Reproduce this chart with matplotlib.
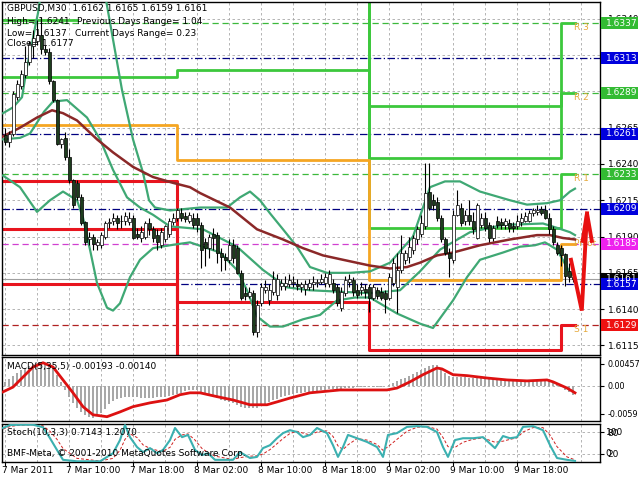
import numpy as np
import matplotlib.pyplot as plt
import matplotlib.transforms as mtransforms
from matplotlib.patches import Rectangle

plt.rcParams['font.family'] = ['DejaVu Sans']
FS = 6.5

# ── GBPUSD M30 candles, bar 0 = 7 Mar 2011 02:00 ─────────────────────────────
opens = [1.6260, 1.6255, 1.6261, 1.6286, 1.6294, 1.6301, 1.6310, 1.6321, 1.6325, 1.6329,
         1.6319, 1.6317, 1.6297, 1.6284, 1.6254, 1.6258, 1.6245, 1.6229, 1.6227, 1.6217,
         1.6200, 1.6188, 1.6190, 1.6184, 1.6184, 1.6190, 1.6199, 1.6201, 1.6203, 1.6201,
         1.6201, 1.6200, 1.6203, 1.6192, 1.6189, 1.6190, 1.6199, 1.6195, 1.6191, 1.6184,
         1.6188, 1.6192, 1.6200, 1.6203, 1.6206, 1.6204, 1.6201, 1.6203, 1.6203, 1.6198,
         1.6186, 1.6182, 1.6192, 1.6191, 1.6179, 1.6176, 1.6174, 1.6184, 1.6182, 1.6165,
         1.6151, 1.6149, 1.6151, 1.6124, 1.6144, 1.6153, 1.6146, 1.6152, 1.6150, 1.6156,
         1.6156, 1.6157, 1.6158, 1.6157, 1.6155, 1.6154, 1.6155, 1.6157, 1.6158, 1.6159,
         1.6158, 1.6157, 1.6158, 1.6155, 1.6141, 1.6151, 1.6159, 1.6160, 1.6153, 1.6153,
         1.6154, 1.6155, 1.6148, 1.6153, 1.6152, 1.6151, 1.6148, 1.6158, 1.6155, 1.6167,
         1.6174, 1.6176, 1.6181, 1.6188, 1.6192, 1.6197, 1.6221, 1.6215, 1.6214, 1.6203,
         1.6188, 1.6179, 1.6174, 1.6205, 1.6210, 1.6201, 1.6205, 1.6201, 1.6189, 1.6198,
         1.6203, 1.6198, 1.6189, 1.6201, 1.6200, 1.6198, 1.6199, 1.6197, 1.6197, 1.6200,
         1.6201, 1.6201, 1.6206, 1.6207, 1.6209, 1.6208, 1.6203, 1.6195, 1.6184, 1.6182,
         1.6178, 1.6166, 1.6162]
closes = [1.6255, 1.6261, 1.6288, 1.6295, 1.6302, 1.6310, 1.6323, 1.6327, 1.6329, 1.6319,
          1.6317, 1.6297, 1.6284, 1.6254, 1.6257, 1.6245, 1.6229, 1.6212, 1.6217, 1.6199,
          1.6186, 1.6190, 1.6185, 1.6186, 1.6191, 1.6199, 1.6200, 1.6203, 1.6199, 1.6201,
          1.6204, 1.6203, 1.6189, 1.6190, 1.6193, 1.6199, 1.6195, 1.6189, 1.6186, 1.6193,
          1.6197, 1.6201, 1.6203, 1.6208, 1.6203, 1.6202, 1.6205, 1.6198, 1.6198, 1.6181,
          1.6182, 1.6190, 1.6189, 1.6179, 1.6176, 1.6174, 1.6184, 1.6175, 1.6165, 1.6148,
          1.6149, 1.6152, 1.6124, 1.6143, 1.6155, 1.6155, 1.6153, 1.6161, 1.6161, 1.6158,
          1.6158, 1.6160, 1.6159, 1.6156, 1.6157, 1.6157, 1.6158, 1.6159, 1.6159, 1.6161,
          1.6162, 1.6164, 1.6153, 1.6144, 1.6152, 1.6160, 1.6161, 1.6152, 1.6150, 1.6155,
          1.6152, 1.6148, 1.6155, 1.6149, 1.6148, 1.6147, 1.6162, 1.6172, 1.6167, 1.6179,
          1.6179, 1.6183, 1.6189, 1.6195, 1.6199, 1.6220, 1.6210, 1.6212, 1.6203, 1.6188,
          1.6179, 1.6175, 1.6205, 1.6212, 1.6199, 1.6205, 1.6201, 1.6195, 1.6212, 1.6203,
          1.6196, 1.6189, 1.6196, 1.6198, 1.6198, 1.6201, 1.6196, 1.6196, 1.6201, 1.6203,
          1.6204, 1.6206, 1.6208, 1.6208, 1.6206, 1.6203, 1.6195, 1.6186, 1.6179, 1.6177,
          1.6163, 1.6162, 1.6161]
highs = [1.6265, 1.6263, 1.6290, 1.6298, 1.6305, 1.6321, 1.6325, 1.6332, 1.6339, 1.6341,
         1.6322, 1.6320, 1.6298, 1.6285, 1.6258, 1.6262, 1.6250, 1.6230, 1.6229, 1.6219,
         1.6201, 1.6193, 1.6192, 1.6188, 1.6193, 1.6201, 1.6203, 1.6206, 1.6205, 1.6205,
         1.6207, 1.6207, 1.6205, 1.6196, 1.6197, 1.6201, 1.6203, 1.6197, 1.6195, 1.6196,
         1.6198, 1.6203, 1.6206, 1.6210, 1.6210, 1.6207, 1.6207, 1.6206, 1.6206, 1.6200,
         1.6189, 1.6192, 1.6196, 1.6193, 1.6182, 1.6179, 1.6188, 1.6188, 1.6184, 1.6167,
         1.6155, 1.6155, 1.6153, 1.6146, 1.6158, 1.6160, 1.6157, 1.6166, 1.6164, 1.6161,
         1.6163, 1.6164, 1.6163, 1.6161, 1.6159, 1.6160, 1.6161, 1.6163, 1.6161, 1.6164,
         1.6165, 1.6167, 1.6161, 1.6157, 1.6155, 1.6163, 1.6164, 1.6162, 1.6157, 1.6159,
         1.6157, 1.6157, 1.6157, 1.6155, 1.6155, 1.6153, 1.6165, 1.6175, 1.6179, 1.6191,
         1.6181, 1.6190, 1.6191, 1.6197, 1.6205, 1.6241, 1.6241, 1.6219, 1.6217, 1.6205,
         1.6190, 1.6182, 1.6208, 1.6222, 1.6213, 1.6208, 1.6215, 1.6207, 1.6213, 1.6206,
         1.6207, 1.6200, 1.6198, 1.6204, 1.6203, 1.6203, 1.6202, 1.6200, 1.6205, 1.6206,
         1.6207, 1.6208, 1.6210, 1.6212, 1.6211, 1.6212, 1.6206, 1.6197, 1.6186, 1.6184,
         1.6179, 1.6172, 1.6165]
lows = [1.6253, 1.6252, 1.6259, 1.6284, 1.6292, 1.6299, 1.6308, 1.6313, 1.6322, 1.6316,
        1.6315, 1.6295, 1.6283, 1.6253, 1.6251, 1.6243, 1.6227, 1.6210, 1.6215, 1.6198,
        1.6184, 1.6184, 1.6181, 1.6181, 1.6182, 1.6188, 1.6196, 1.6198, 1.6195, 1.6196,
        1.6198, 1.6198, 1.6188, 1.6188, 1.6186, 1.6188, 1.6191, 1.6186, 1.6181, 1.6182,
        1.6186, 1.6190, 1.6198, 1.6201, 1.6201, 1.6200, 1.6199, 1.6196, 1.6193, 1.6168,
        1.6170, 1.6175, 1.6181, 1.6172, 1.6166, 1.6167, 1.6172, 1.6172, 1.6164, 1.6146,
        1.6146, 1.6148, 1.6122, 1.6121, 1.6142, 1.6151, 1.6143, 1.6150, 1.6146, 1.6153,
        1.6153, 1.6155, 1.6155, 1.6153, 1.6152, 1.6150, 1.6153, 1.6153, 1.6155, 1.6157,
        1.6155, 1.6155, 1.6151, 1.6142, 1.6139, 1.6149, 1.6155, 1.6149, 1.6148, 1.6150,
        1.6148, 1.6138, 1.6146, 1.6147, 1.6146, 1.6137, 1.6146, 1.6156, 1.6137, 1.6165,
        1.6171, 1.6172, 1.6178, 1.6185, 1.6190, 1.6195, 1.6208, 1.6208, 1.6201, 1.6186,
        1.6177, 1.6162, 1.6172, 1.6204, 1.6197, 1.6198, 1.6198, 1.6192, 1.6188, 1.6196,
        1.6194, 1.6186, 1.6187, 1.6196, 1.6195, 1.6195, 1.6193, 1.6193, 1.6195, 1.6197,
        1.6200, 1.6200, 1.6204, 1.6205, 1.6205, 1.6202, 1.6192, 1.6184, 1.6177, 1.6170,
        1.6156, 1.6159, 1.6159]

# ── Bollinger bands and moving average ──────────────────────────────────────
bb_up_x = [-0.5, 2, 4.25, 5.5, 6.75, 7.5, 8.25, 9.5, 24.5, 25.25, 29.25, 32, 34.5, 36, 37.5,
           41.25, 48.75, 55.5, 58.75, 61.25, 63.75, 66.25, 69.5, 73, 76.25, 80.5, 86.25, 91.25,
           96.25, 102, 106.25, 110, 113.75, 118.75, 126.25, 130.5, 135.5, 138.75, 141.25, 142.5]
bb_up = [1.6275, 1.6279, 1.6286, 1.6307, 1.6323, 1.6334, 1.6344, 1.6367, 1.6367, 1.6353,
         1.6291, 1.6257, 1.6234, 1.6215, 1.6210, 1.6208, 1.6210, 1.6210, 1.6217, 1.6221,
         1.6215, 1.6206, 1.6195, 1.6183, 1.6169, 1.6165, 1.6165, 1.6166, 1.6172, 1.6190,
         1.6224, 1.6228, 1.6228, 1.6221, 1.6215, 1.6212, 1.6213, 1.6215, 1.6221, 1.6223]
bb_mid_x = [-0.5, 3.75, 6.25, 9.75, 12, 15.5, 20.5, 23.75, 27, 30.5, 33.75, 37, 41.25, 49.5,
            58, 64.5, 70.5, 76.25, 83.75, 91.25, 98.75, 103.75, 108.75, 116.25, 124.5, 134.5,
            138, 141.25, 142.5]
bb_mid = [1.6257, 1.6258, 1.6261, 1.6276, 1.6283, 1.6284, 1.6272, 1.6257, 1.6236, 1.6217,
          1.6210, 1.6205, 1.6197, 1.6195, 1.6183, 1.6167, 1.6155, 1.6153, 1.6152, 1.6151,
          1.6153, 1.6166, 1.6181, 1.6193, 1.6198, 1.6199, 1.6196, 1.6193, 1.6191]
bb_low_x = [-0.5, 3.75, 8, 11.25, 14.5, 18, 19.5, 21.25, 23, 25.5, 27, 28.75, 31.25, 33.75, 37,
            41.25, 46.25, 53.75, 58, 60.5, 63, 66.25, 69.5, 74.5, 78.75, 83, 87.5, 91.25, 98,
            103.75, 107, 112, 115.5, 118.75, 124.5, 128.75, 132.5, 135, 138, 141.25, 142.5]
bb_low = [1.6232, 1.6224, 1.6207, 1.6215, 1.6221, 1.6215, 1.6203, 1.6181, 1.6158, 1.6141,
          1.6139, 1.6144, 1.6162, 1.6174, 1.6182, 1.6184, 1.6186, 1.6179, 1.6167, 1.6153,
          1.6135, 1.6128, 1.6128, 1.6133, 1.6136, 1.6146, 1.6148, 1.6148, 1.6137, 1.6130,
          1.6127, 1.6146, 1.6162, 1.6174, 1.6179, 1.6183, 1.6184, 1.6186, 1.6181, 1.6165,
          1.6162]
ma_x = [-0.5, 3.75, 8, 11.75, 14.5, 18, 23, 27, 32, 37, 42, 46.25, 48.75, 56.25, 63, 69.5,
        74.5, 79.5, 84.5, 91.25, 96.25, 100.5, 103.75, 108, 112, 118.75, 126.25, 133, 136.25,
        139.5, 142.5]
ma = [1.6259, 1.6265, 1.6272, 1.6277, 1.6275, 1.6270, 1.6257, 1.6248, 1.6238, 1.6231,
      1.6227, 1.6224, 1.6220, 1.6210, 1.6195, 1.6188, 1.6182, 1.6177, 1.6174, 1.6170,
      1.6168, 1.6169, 1.6172, 1.6177, 1.6179, 1.6184, 1.6188, 1.6191, 1.6191, 1.6189, 1.6188]

# ── Daily pivot levels for 7, 8, 9 and 10 Mar ────────────────────────────────
day_edges = [-0.75, 43, 91, 139, 142.5]
r3 = [1.6411, 1.6465, 1.6280, 1.6337]
r2 = [1.6339, 1.6403, 1.6244, 1.6289]
r1 = [1.6300, 1.6305, 1.6196, 1.6233]
pp = [1.6267, 1.6243, 1.6160, 1.6185]
s1 = [1.6228, 1.6145, 1.6112, 1.6129]
s2 = [1.6195, 1.6083, 1.6076, 1.6081]
s3 = [1.6157, 1.6021, 1.6040, 1.6025]
r2_day7_end = 18

today_levels = [1.6337, 1.6313, 1.6289, 1.6261, 1.6233, 1.6209, 1.6185, 1.6157, 1.6129]
today_kinds = ['R', 'M', 'R', 'M', 'R', 'M', 'P', 'M', 'S']
pivot_names = ['R 3', 'R 2', 'R 1', 'Pivot P', 'S 1']
pivot_prices = [1.6337, 1.6289, 1.6233, 1.6185, 1.6129]

box_prices = [1.6337, 1.6313, 1.6289, 1.6261, 1.6233, 1.6209, 1.6185, 1.6161, 1.6157, 1.6129]
box_kinds = ['R', 'M', 'R', 'M', 'R', 'M', 'P', 'B', 'M', 'S']

price_ticks = [1.6115, 1.6140, 1.6165, 1.6190, 1.6215, 1.6240, 1.6265, 1.6290, 1.6315, 1.6340]

# forecast arrow on the right
arrow_x = [141.5, 144.2, 145.5]
arrow_y = [1.6174, 1.6139, 1.6206]
head_x = [144.4, 145.5, 146.7]
head_y = [1.6187, 1.6206, 1.6187]

# ── MACD(5,35,5): histogram per bar and signal line (units of 1e-4) ──────────
macd_hist = [8, 14, 20, 27, 33, 38, 42, 45, 47, 48,
             47, 43, 34, 22, 8, -10, -23, -36, -46, -55,
             -62, -66, -67, -64, -58, -48, -38, -32, -28, -26,
             -24, -23, -23, -24, -25, -26, -26, -25, -24, -23,
             -23, -21, -19, -17, -15, -12, -10, -9, -10, -13,
             -15, -18, -22, -26, -30, -33, -35, -37, -40, -44,
             -46, -47, -47, -46, -43, -38, -34, -30, -27, -24,
             -21, -19, -17, -16, -15, -14, -13, -13, -12, -10,
             -9, -8, -7, -6, -6, -5, -4, -4, -3, -3,
             -3, -3, -3, -3, -2, -1, 2, 6, 10, 13,
             16, 20, 24, 28, 32, 38, 42, 44, 43, 36,
             27, 20, 18, 18, 18, 18, 17, 17, 17, 16,
             16, 15, 15, 14, 13, 12, 12, 12, 12, 12,
             12, 12, 11, 11, 10, 10, 9, 7, 3, -3,
             -9, -14, -19]
sig_x = [-0.5, 2, 4.5, 7, 9.5, 12, 14.5, 17, 19.5, 22, 25.5, 28.75, 32, 36.25, 40.5, 43.75,
         46.25, 48.75, 53, 57, 61.25, 65.5, 68, 71.25, 76.25, 78.75, 83.75, 88.75, 95.5, 98,
         101.25, 104.5, 108, 109.25, 112, 115.5, 120.5, 125.5, 130.5, 135.5, 137, 140.5, 142.5]
sig_v = [-13, -3, 18, 39, 48, 39, 12, -15, -44, -61, -65, -55, -44, -36, -30, -19,
         -15, -15, -23, -30, -40, -40, -34, -26, -15, -13, -9, -9, -9, -5,
         8, 23, 37, 35, 23, 21, 16, 12, 10, 12, 8, -5, -15]

# ── Stochastic(10,3,3) ──────────────────────────────────────────────────────
st_x = [-0.5, 1.25, 3.75, 7, 9.5, 11.25, 13, 14.5, 18, 23.75, 27, 28.75, 30, 31.25, 33,
        34.5, 36.25, 38, 39.5, 41.25, 42.5, 44.25, 45.75, 47.5, 49.25, 50.75, 52.5, 57,
        58.75, 61.25, 63, 64.5, 66.25, 68, 69.5, 71.25, 73, 74.5, 76.25, 78, 80.5, 82,
        83.25, 84.5, 85.75, 88, 90.5, 93, 94.5, 95.75, 98, 100.5, 103, 105.5, 108, 109.5,
        110.75, 112.5, 114.5, 117, 119.5, 122.5, 124.5, 126.25, 128, 129.5, 132, 134.5,
        136.25, 138, 140.5, 142.5]
st_k = [91, 99, 100, 100, 93, 63, 31, 4, 0, 0, 22, 58, 99, 66, 39, 25, 36, 22, 31, 58,
        91, 66, 72, 31, 17, 22, 4, 4, 25, 9, 12, 36, 44, 63, 77, 85, 80, 66, 72, 91,
        77, 44, 12, 39, 72, 63, 53, 39, 12, 72, 77, 94, 96, 94, 80, 39, 12, 58, 63, 63,
        66, 36, 69, 63, 66, 94, 96, 85, 44, 9, 4, 1]
st_d = [88, 95, 99, 100, 97, 82, 60, 35, 8, 1, 8, 30, 60, 75, 65, 45, 35, 30, 28, 38,
        60, 72, 75, 58, 35, 24, 14, 5, 10, 14, 15, 20, 32, 48, 62, 76, 82, 77, 72, 80,
        83, 68, 42, 32, 45, 62, 58, 46, 30, 40, 60, 82, 93, 95, 88, 65, 40, 38, 52, 60,
        64, 52, 55, 60, 64, 80, 92, 92, 72, 40, 12, 4]

grid_idx = list(range(0, 149, 8))
date_idx = [0, 16, 32, 48, 64, 80, 96, 112, 128]
date_labels = ['7 Mar 2011', '7 Mar 10:00', '7 Mar 18:00', '8 Mar 02:00', '8 Mar 10:00',
               '8 Mar 18:00', '9 Mar 02:00', '9 Mar 10:00', '9 Mar 18:00']

# ── colours ─────────────────────────────────────────────────────────────────
GRID = '#a8a8a8'
C_R, C_P, C_S = '#3cc83c', '#f5a623', '#e8141e'
C_BB, C_MA = '#3fa874', '#8b2828'
kind_col = {'R': '#3cb83c', 'M': '#000080', 'P': '#d040d0', 'S': '#b02020'}
box_col = {'R': '#33bb33', 'M': '#0000dd', 'P': '#ee22ee', 'B': '#000000', 'S': '#ee1111'}

W, H = 640, 480
fig = plt.figure(figsize=(6.4, 4.8), dpi=100)


def px_box(x0, y0, x1, y1):
    return [x0 / W, 1 - y1 / H, (x1 - x0) / W, (y1 - y0) / H]


ax = fig.add_axes(px_box(2, 2, 600, 355))
axm = fig.add_axes(px_box(2, 357, 600, 421))
axs = fig.add_axes(px_box(2, 424, 600, 462))


def style(a, ylim, fs=FS):
    a.set_xlim(-0.75, 148.75)
    a.set_ylim(*ylim)
    for s in a.spines.values():
        s.set_color('black')
        s.set_linewidth(1)
    a.tick_params(axis='x', length=0, labelbottom=False)
    a.yaxis.tick_right()
    a.tick_params(axis='y', direction='out', length=3, width=0.8, pad=2.5,
                  labelsize=fs, colors='black')
    for g in grid_idx:
        a.axvline(g, color=GRID, lw=0.6, ls=(0, (3, 3)), zorder=0)


# ── main price panel ────────────────────────────────────────────────────────
style(ax, (1.61084, 1.63516))
ax.set_yticks(price_ticks)
ax.set_yticklabels([f'{p:.4f}' for p in price_ticks])
for p in price_ticks:
    ax.axhline(p, color=GRID, lw=0.6, ls=(0, (3, 3)), zorder=0)

for lv, k in zip(today_levels, today_kinds):
    ls = (0, (6, 2, 1, 2)) if k == 'M' else (0, (5, 3))
    ax.axhline(lv, color=kind_col[k], lw=0.9, ls=ls, zorder=1)
ax.axhline(closes[-1], color='#a0a0a0', lw=0.8, zorder=1)

for lev, col, lw in [(r3, C_R, 2), (r2, C_R, 2), (r1, C_R, 2), (pp, C_P, 2),
                     (s1, C_S, 2.2), (s2, C_S, 2.2), (s3, C_S, 2.2)]:
    xs, ys = day_edges, lev + [lev[-1]]
    if lev is r2:
        ax.plot([day_edges[0], r2_day7_end], [lev[0], lev[0]], color=col, lw=lw, zorder=2)
        xs, ys = day_edges[1:], lev[1:] + [lev[-1]]
    ax.step(xs, ys, where='post', color=col, lw=lw, zorder=2)

for name, p in zip(pivot_names, pivot_prices):
    ax.text(142.2, p, name, color='#e6a93c', fontsize=FS, ha='left',
            va='center' if name == 'Pivot P' else 'top', zorder=3, clip_on=True)

ax.plot(bb_up_x, bb_up, color=C_BB, lw=1.6, zorder=3)
ax.plot(bb_mid_x, bb_mid, color=C_BB, lw=1.6, zorder=3)
ax.plot(bb_low_x, bb_low, color=C_BB, lw=1.6, zorder=3)
ax.plot(ma_x, ma, color=C_MA, lw=1.8, zorder=3)

o, c, h, l = map(np.array, (opens, closes, highs, lows))
bar_idx = np.arange(len(c))
up = c >= o
ax.vlines(bar_idx, l, h, color='black', lw=0.8, zorder=4)
ax.bar(bar_idx[up], (c - o)[up], bottom=o[up], width=0.75, color='white',
       edgecolor='black', lw=0.5, zorder=5)
ax.bar(bar_idx[~up], (o - c)[~up], bottom=c[~up], width=0.75, color='#1e3d1e',
       edgecolor='black', lw=0.5, zorder=5)

ax.plot(arrow_x, arrow_y, color='#e81010', lw=2.8, zorder=6, solid_joinstyle='miter')
ax.plot(head_x, head_y, color='#e81010', lw=2.8, zorder=6, solid_joinstyle='miter')

# coloured price boxes on the right axis
ylo, yhi = ax.get_ylim()
half = 6 * (yhi - ylo) / 353
tr = mtransforms.blended_transform_factory(fig.transFigure, ax.transData)
for p, k in zip(box_prices, box_kinds):
    fig.add_artist(Rectangle((601 / W, p - half), 37 / W, 2 * half, transform=tr,
                             facecolor=box_col[k], edgecolor='none', zorder=5))
    fig.text(606 / W, p, f'{p:.4f}', transform=tr, color='white', fontsize=FS,
             va='center', ha='left', zorder=6)

# ── MACD panel ──────────────────────────────────────────────────────────────
style(axm, (-0.0074, 0.0060), fs=5.8)
axm.set_yticks([0.00457, 0.0, -0.0059])
axm.set_yticklabels(['0.00457', '0.00', '-0.0059'])
axm.axhline(0, color=GRID, lw=0.6, ls=(0, (3, 3)), zorder=0)
axm.bar(bar_idx, np.array(macd_hist) * 1e-4, width=0.5, color='#a8a8a8', zorder=2)
axm.plot(sig_x, np.array(sig_v) * 1e-4, color='#dd1111', lw=2, zorder=3)

# ── Stochastic panel ────────────────────────────────────────────────────────
style(axs, (-1.9, 101.9))
axs.set_yticks([20, 80])
axs.set_yticklabels(['20', '80'])
for lv in (20, 80):
    axs.axhline(lv, color=GRID, lw=0.6, ls=(0, (3, 3)), zorder=0)
ytr = mtransforms.blended_transform_factory(fig.transFigure, axs.transData)
fig.text(605.5 / W, 80, '100', transform=ytr, fontsize=FS, va='center', ha='left')
fig.text(605.5 / W, 20, '0', transform=ytr, fontsize=FS, va='center', ha='left')
axs.plot(st_x, st_k, color='#3bb0b0', lw=1.5, zorder=3)
axs.plot(st_x, st_d, color='#d02020', lw=0.7, ls=(0, (3, 2)), zorder=2)
axs.set_xticks(date_idx)
axs.tick_params(axis='x', length=3, direction='out', labelbottom=False)
xtr = mtransforms.blended_transform_factory(axs.transData, axs.transAxes)
for gi, lab in zip(date_idx, date_labels):
    axs.text(gi - 0.75, -0.1, lab, transform=xtr, fontsize=FS, ha='left', va='top')

# ── header texts ────────────────────────────────────────────────────────────
def ftext(x, y, s, **kw):
    fig.text(x / W, 1 - y / H, s, fontsize=FS, va='center', ha='left', **kw)


ftext(7, 9, 'GBPUSD,M30  1.6162 1.6165 1.6159 1.6161')
ftext(7, 21, 'High= 1.6241')
ftext(77, 21, 'Previous Days Range= 1.04')
ftext(7, 33, 'Low= 1.6137')
ftext(75, 33, 'Current Days Range= 0.23')
ftext(7, 44, 'Close= 1.6177')
ftext(7, 367, 'MACD(5,35,5) -0.00193 -0.00140')
ftext(7, 432, 'Stoch(10,3,3) 0.7143 1.2070')
ftext(7, 453, 'BMF-Meta, \u00a9 2001-2010 MetaQuotes Software Corp.')

fig.savefig('out.png', dpi=100, facecolor='white')
